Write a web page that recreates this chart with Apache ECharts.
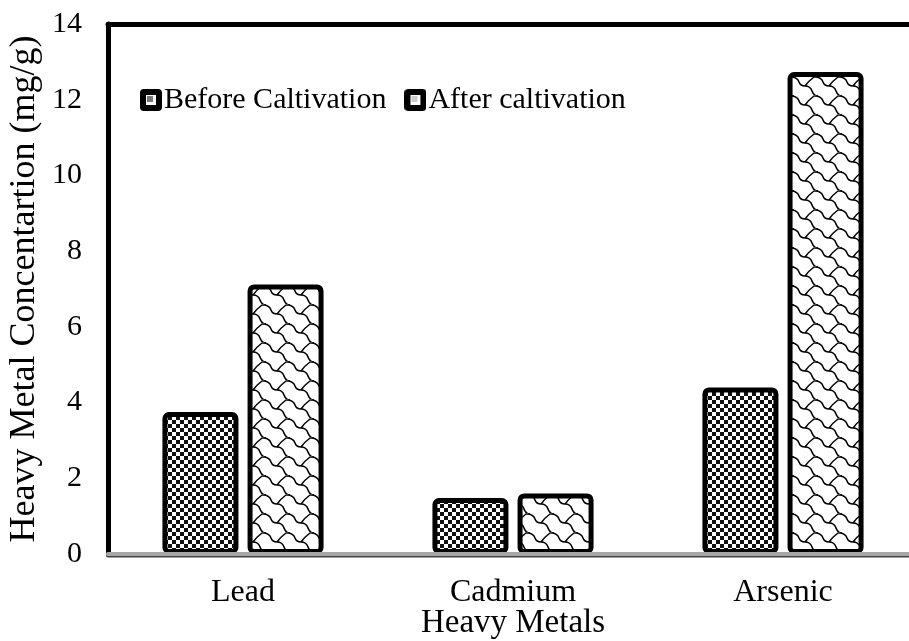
<!DOCTYPE html>
<html>
<head>
<meta charset="utf-8">
<script src="https://cdn.jsdelivr.net/npm/echarts@6/dist/echarts.min.js"></script>
<style>
  html, body { margin: 0; padding: 0; background: #fff; }
  #chart { width: 909px; height: 641px; }
</style>
</head>
<body>
<div id="chart"></div>
<script>
const metals = ['Lead', 'Cadmium', 'Arsenic'];
const beforeValues = [3.75, 1.48, 4.4];
const afterValues = [7.12, 1.6, 12.73];
const yTicks = [0, 2, 4, 6, 8, 10, 12, 14];

const FONT = '"Liberation Serif", "Times New Roman", serif';

// checkerboard fill for "before"
function checker() {
  const c = document.createElement('canvas');
  c.width = 8; c.height = 8;
  const g = c.getContext('2d');
  g.fillStyle = '#fff'; g.fillRect(0, 0, 8, 8);
  g.fillStyle = '#111';
  g.fillRect(0, 0, 4, 4);
  g.fillRect(4, 4, 4, 4);
  return c;
}

// shingle-like fill for "after"
function shingle() {
  const c = document.createElement('canvas');
  c.width = 24; c.height = 19;
  const g = c.getContext('2d');
  g.fillStyle = '#fff'; g.fillRect(0, 0, 24, 19);
  g.strokeStyle = '#000';
  g.lineWidth = 1.5;
  g.beginPath();
  // chain going down-right
  g.moveTo(-2, 1);
  g.bezierCurveTo(4, 1, 6, 3, 7, 6);
  g.bezierCurveTo(8, 9, 10, 10, 13, 10);
  g.bezierCurveTo(17, 10, 19, 12, 20, 15);
  g.bezierCurveTo(21, 18, 22, 20, 26, 20);
  // connector going up-right
  g.moveTo(13, 10);
  g.bezierCurveTo(15, 7, 18, 4, 22, 1);
  g.lineTo(26, 1);
  // wrap pieces of neighbours
  g.moveTo(-11, 10);
  g.bezierCurveTo(-9, 7, -6, 4, -2, 1);
  g.moveTo(-4, -9);
  g.bezierCurveTo(-3, -6, -2, -1, 2, 0);
  g.stroke();
  return c;
}

function legendIcon(inner) {
  const c = document.createElement('canvas');
  c.width = 22; c.height = 22;
  const g = c.getContext('2d');
  g.fillStyle = '#000';
  g.beginPath();
  g.roundRect(0, 0, 22, 22, 4);
  g.fill();
  g.fillStyle = '#fff';
  g.fillRect(6, 6, 10, 10);
  g.fillStyle = inner;
  g.fillRect(7, 7, 6, 6);
  return c.toDataURL();
}

const chart = echarts.init(document.getElementById('chart'), null, { renderer: 'canvas' });

const option = {
  animation: false,
  backgroundColor: '#fff',
  textStyle: { fontFamily: FONT, color: '#000' },
  grid: { left: 108, right: -9, top: 24, bottom: 87, outerBoundsMode: 'none', containLabel: false },
  legend: {
    left: 135, top: 80,
    itemWidth: 22, itemHeight: 22, itemGap: 18,
    textStyle: { fontFamily: FONT, fontSize: 30, color: '#000', padding: [0, 0, 0, -3] },
    data: [
      { name: 'Before Caltivation', icon: 'image://' + legendIcon('#777') },
      { name: 'After caltivation', icon: 'image://' + legendIcon('#ccc') }
    ]
  },
  xAxis: [
    {
      type: 'category',
      data: metals,
      name: 'Heavy Metals',
      nameLocation: 'middle',
      nameGap: 53,
      nameMoveOverlap: false,
      nameTextStyle: { fontFamily: FONT, fontSize: 33, color: '#000' },
      axisTick: { show: false },
      axisLine: { lineStyle: { color: '#a6a6a6', width: 4, shadowColor: '#444', shadowOffsetY: 1.5 } },
      axisLabel: { fontFamily: FONT, fontSize: 32, color: '#000', margin: 23 },
      z: 10
    },
    {
      // top frame line
      type: 'category',
      data: metals,
      position: 'top',
      axisTick: { show: false },
      axisLabel: { show: false },
      axisLine: { lineStyle: { color: '#000', width: 5 } }
    }
  ],
  yAxis: {
    type: 'value',
    min: yTicks[0], max: yTicks[yTicks.length - 1], interval: 2,
    name: 'Heavy Metal Concentartion (mg/g)',
    nameLocation: 'middle',
    nameGap: 65,
    nameMoveOverlap: false,
    nameTextStyle: { fontFamily: FONT, fontSize: 36, color: '#000' },
    axisLine: { show: true, lineStyle: { color: '#000', width: 5 } },
    axisTick: { show: false },
    splitLine: { show: false },
    axisLabel: { fontFamily: FONT, fontSize: 30, color: '#000', margin: 26 }
  },
  series: [
    {
      name: 'Before Caltivation',
      type: 'bar',
      data: beforeValues,
      barWidth: 76,
      barGap: '12%',
      itemStyle: {
        color: { image: checker(), repeat: 'repeat' },
        borderColor: '#000', borderWidth: 5, borderRadius: 4
      }
    },
    {
      name: 'After caltivation',
      type: 'bar',
      data: afterValues,
      barWidth: 76,
      itemStyle: {
        color: { image: shingle(), repeat: 'repeat' },
        borderColor: '#000', borderWidth: 5, borderRadius: 4
      }
    }
  ]
};

chart.setOption(option);
</script>
</body>
</html>
